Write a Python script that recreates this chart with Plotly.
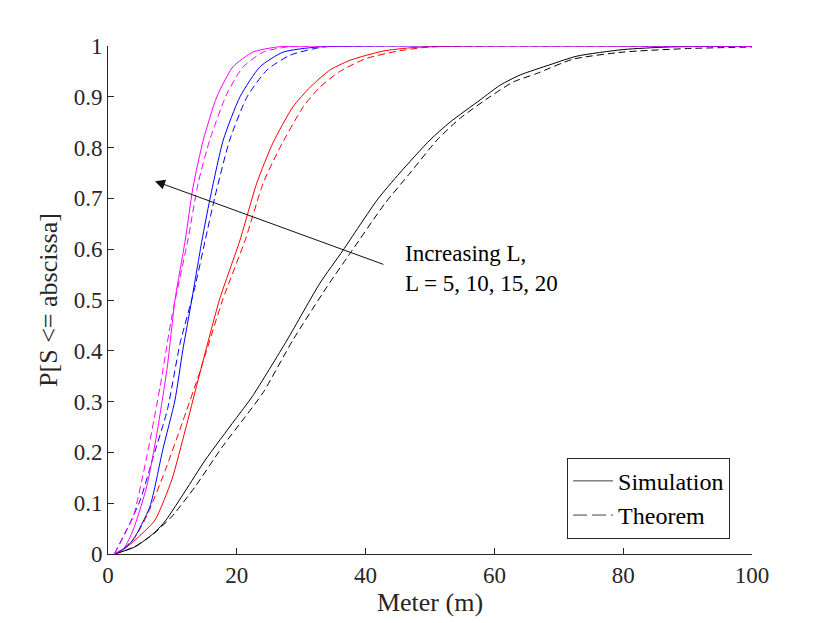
import plotly.graph_objects as go

# (Meter vs CDF)
x_sim_L5 = [1, 2.5, 4.2, 5.7, 7.3, 8.9, 12.0, 15.1, 19.7, 22.4, 27.8, 32.9, 36.5, 41.8, 45.3, 50, 53.1, 57.8, 60.9, 64, 68.6, 72.8, 80, 87, 100]
y_sim_L5 = [0, 0.006, 0.014, 0.027, 0.043, 0.065, 0.124, 0.185, 0.264, 0.31, 0.421, 0.533, 0.598, 0.697, 0.75, 0.815, 0.85, 0.894, 0.923, 0.943, 0.963, 0.98, 0.993, 0.998, 1.0]
x_thm_L5 = [1, 2.5, 4.2, 5.7, 7.3, 10, 13.5, 17.7, 21.3, 24.1, 28.7, 34, 37.6, 43, 46.9, 51.1, 54.7, 59.3, 62.9, 66.6, 72.2, 80, 90, 100]
y_thm_L5 = [0, 0.006, 0.015, 0.027, 0.042, 0.075, 0.132, 0.21, 0.27, 0.318, 0.421, 0.526, 0.592, 0.69, 0.75, 0.815, 0.858, 0.9, 0.929, 0.946, 0.974, 0.988, 0.995, 0.998]

x_sim_L10 = [1, 2.5, 4.7, 7.3, 9.9, 12, 14, 17.3, 20.5, 23.1, 25.6, 28.7, 31.4, 34.5, 37.6, 42.7, 47.4, 55, 100]
y_sim_L10 = [0, 0.01, 0.033, 0.067, 0.146, 0.244, 0.343, 0.5, 0.618, 0.73, 0.809, 0.88, 0.919, 0.953, 0.972, 0.99, 0.997, 1.0, 1.0]
x_thm_L10 = [1, 2.5, 4.2, 6.2, 8.9, 11.5, 14.3, 17.8, 21.3, 24.1, 26.7, 30.3, 32.9, 36, 40, 45, 50, 100]
y_thm_L10 = [0, 0.012, 0.033, 0.08, 0.165, 0.257, 0.36, 0.5, 0.618, 0.73, 0.80, 0.88, 0.919, 0.95, 0.975, 0.99, 0.998, 1.0]

x_sim_L15 = [1, 2.5, 3.9, 6.5, 8.5, 10.4, 11.6, 13, 14.6, 15.8, 17.9, 20.5, 23.6, 27.2, 32.5, 40, 100]
y_sim_L15 = [0, 0.01, 0.028, 0.093, 0.205, 0.303, 0.40, 0.5, 0.618, 0.697, 0.815, 0.9, 0.959, 0.988, 0.998, 1.0, 1.0]
x_thm_L15 = [1, 2.9, 5, 7, 9.2, 11.2, 13.4, 15.1, 16.6, 18.9, 21.6, 24.7, 28.3, 33.4, 40, 100]
y_thm_L15 = [0, 0.047, 0.106, 0.19, 0.283, 0.415, 0.52, 0.618, 0.703, 0.815, 0.9, 0.953, 0.982, 0.998, 1.0, 1.0]

x_sim_L20 = [1, 2.5, 3.9, 6, 7.6, 9.2, 10.4, 12, 13.2, 14.8, 16.9, 19.4, 22.5, 26.2, 32, 100]
y_sim_L20 = [0, 0.012, 0.047, 0.132, 0.238, 0.368, 0.5, 0.618, 0.722, 0.815, 0.9, 0.959, 0.988, 0.998, 1.0, 1.0]
x_thm_L20 = [1, 2.6, 3.9, 6, 8.1, 9.9, 12.4, 14, 15.8, 18.5, 21, 24.1, 27.8, 34, 100]
y_thm_L20 = [0, 0.041, 0.073, 0.19, 0.33, 0.467, 0.618, 0.73, 0.815, 0.907, 0.959, 0.988, 0.998, 1.0, 1.0]

x_ticks = [0, 20, 40, 60, 80, 100]
y_ticks = [0, 0.1, 0.2, 0.3, 0.4, 0.5, 0.6, 0.7, 0.8, 0.9, 1]
y_tick_text = ["0", "0.1", "0.2", "0.3", "0.4", "0.5", "0.6", "0.7", "0.8", "0.9", "1"]

curves = [
    (x_sim_L5, y_sim_L5, x_thm_L5, y_thm_L5, "#000000"),
    (x_sim_L10, y_sim_L10, x_thm_L10, y_thm_L10, "#FF0000"),
    (x_sim_L15, y_sim_L15, x_thm_L15, y_thm_L15, "#0000FF"),
    (x_sim_L20, y_sim_L20, x_thm_L20, y_thm_L20, "#FF00FF"),
]

FONT = "Liberation Serif, Times New Roman, serif"
AXCOL = "#262626"

fig = go.Figure()

for xs, ys, xt, yt, col in curves:
    fig.add_trace(go.Scatter(x=xs, y=ys, mode="lines", showlegend=False,
                             line=dict(color=col, width=1, shape="spline", smoothing=0.6)))
    fig.add_trace(go.Scatter(x=xt, y=yt, mode="lines", showlegend=False,
                             line=dict(color=col, width=1, dash="7px,4px", shape="spline", smoothing=0.6)))

# legend entries only
fig.add_trace(go.Scatter(x=[None], y=[None], mode="lines", name="Simulation",
                         line=dict(color="#404040", width=1)))
fig.add_trace(go.Scatter(x=[None], y=[None], mode="lines", name="Theorem",
                         line=dict(color="#404040", width=1, dash="14px,5px")))

fig.add_annotation(x=7.3, y=0.734, ax=43.0, ay=0.569, xref="x", yref="y",
                   axref="x", ayref="y", text="", showarrow=True,
                   arrowhead=2, arrowsize=2, arrowwidth=1, arrowcolor="#111111")
fig.add_annotation(x=45.8, y=0.563, xref="x", yref="y", showarrow=False,
                   text="Increasing L,<br>L = 5, 10, 15, 20", align="left",
                   xanchor="left", yanchor="middle",
                   font=dict(family=FONT, size=23, color="#000000"))

fig.update_layout(
    width=830, height=623,
    margin=dict(l=100, r=86, t=38, b=77),
    paper_bgcolor="white", plot_bgcolor="white",
    font=dict(family=FONT, size=23, color=AXCOL),
    legend=dict(x=0.966, y=0.03, xanchor="right", yanchor="bottom",
                bordercolor=AXCOL, borderwidth=1, bgcolor="white",
                font=dict(family=FONT, size=24, color="#000000"),
                tracegroupgap=0, itemwidth=40),
)
fig.update_xaxes(range=[0, 100], tickvals=x_ticks, showgrid=False, zeroline=False,
                 showline=True, linecolor=AXCOL, linewidth=1,
                 ticks="inside", ticklen=6, tickcolor=AXCOL,
                 tickfont=dict(family=FONT, size=23, color=AXCOL),
                 title=dict(text="Meter (m)", font=dict(family=FONT, size=26, color=AXCOL), standoff=4))
fig.update_yaxes(range=[0, 1], tickvals=y_ticks, ticktext=y_tick_text, showgrid=False, zeroline=False,
                 showline=True, linecolor=AXCOL, linewidth=1,
                 ticks="inside", ticklen=6, tickcolor=AXCOL,
                 tickfont=dict(family=FONT, size=23, color=AXCOL),
                 title=dict(text="P[S <= abscissa]", font=dict(family=FONT, size=26, color=AXCOL), standoff=8))

fig.write_html("out.html")
